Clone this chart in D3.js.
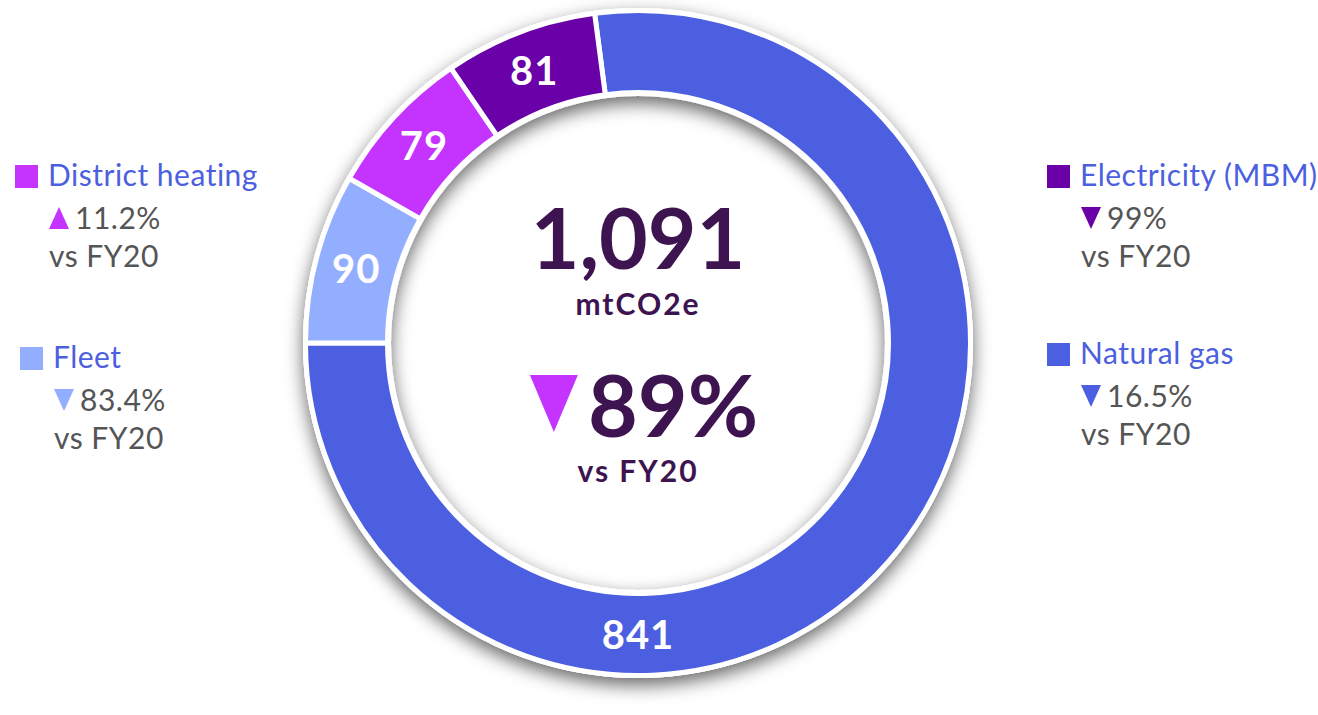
<!DOCTYPE html>
<html>
<head>
<meta charset="utf-8">
<script src="https://cdn.jsdelivr.net/npm/d3@7"></script>
<style>
  html, body { margin: 0; padding: 0; background: #ffffff; }
  svg { display: block; font-family: "Lato", "Open Sans", sans-serif; }
</style>
</head>
<body>
<div id="chart"></div>
<script>
// Emissions by source (mtCO2e), clockwise from the top
const categories = ["Natural gas", "Fleet", "District heating", "Electricity (MBM)"];
const values = [841, 90, 79, 81];
const changes = [-16.5, -83.4, 11.2, -99];   // % vs FY20
const colors = ["#4b5fe0", "#94aeff", "#c533ff", "#6a00a8"];
const totalChange = -89;
const baseYear = "FY20";
const unit = "mtCO2e";

// Layout
const width = 1318, height = 715;
const cx = 638, cy = 343;
const outerR = 330, innerR = 253;
const startAngle = -7.5 * Math.PI / 180;

// legend slot for each category (by index)
const legendPos = [
  { x: 1047, y: 343 },  // Natural gas
  { x: 20, y: 347 },    // Fleet
  { x: 15, y: 165 },    // District heating
  { x: 1047, y: 165 }   // Electricity
];

const data = categories.map((c, i) => ({
  name: c, value: values[i], change: changes[i], color: colors[i]
}));

const svg = d3.select("#chart").append("svg")
  .attr("width", width)
  .attr("height", height);

const defs = svg.append("defs");
const filter = defs.append("filter")
  .attr("id", "shadow")
  .attr("x", "-20%").attr("y", "-20%")
  .attr("width", "140%").attr("height", "140%");
filter.append("feDropShadow")
  .attr("dx", 0).attr("dy", 7)
  .attr("stdDeviation", 9)
  .attr("flood-color", "#000")
  .attr("flood-opacity", 0.6);

const g = svg.append("g").attr("transform", `translate(${cx},${cy})`);

// white ring behind the slices, carrying the shadow
g.append("path")
  .attr("d", d3.arc()({ innerRadius: innerR - 6, outerRadius: outerR + 5, startAngle: 0, endAngle: 2 * Math.PI }))
  .attr("fill", "#fff")
  .attr("filter", "url(#shadow)");

const pie = d3.pie()
  .sort(null)
  .value(d => d.value)
  .startAngle(startAngle)
  .endAngle(startAngle + 2 * Math.PI);

const arcs = pie(data);

const arc = d3.arc()
  .innerRadius(innerR - 2.5)
  .outerRadius(outerR + 2.5);

g.selectAll(".slice")
  .data(arcs)
  .enter().append("path")
  .attr("class", "slice")
  .attr("d", arc)
  .attr("fill", d => d.data.color)
  .attr("stroke", "#fff")
  .attr("stroke-width", 5)
  .attr("stroke-linejoin", "miter");

// slice value labels; the big slice gets its label at the bottom
const midR = (innerR + outerR) / 2;
const maxVal = d3.max(values);
g.selectAll(".slice-label")
  .data(arcs)
  .enter().append("text")
  .attr("class", "slice-label")
  .attr("transform", d => {
    let a = (d.startAngle + d.endAngle) / 2;
    if (d.data.value === maxVal && d.startAngle < Math.PI && d.endAngle > Math.PI) a = Math.PI;
    return `translate(${Math.sin(a) * midR},${-Math.cos(a) * midR})`;
  })
  .attr("text-anchor", "middle")
  .attr("dy", "0.36em")
  .attr("fill", "#fff")
  .style("font-size", "40px")
  .style("font-weight", 700)
  .style("letter-spacing", "1px")
  .text(d => d3.format(",")(d.value));

// centre: total and change
const total = d3.sum(values);
const dark = "#3d1450";

g.append("text")
  .attr("x", 0).attr("y", 269 - cy)
  .attr("text-anchor", "middle")
  .attr("fill", dark)
  .style("font-size", "84px")
  .style("font-weight", 700)
  .text(d3.format(",")(total));

g.append("text")
  .attr("x", 0).attr("y", 315 - cy)
  .attr("text-anchor", "middle")
  .attr("fill", dark)
  .style("font-size", "30px")
  .style("font-weight", 700)
  .style("letter-spacing", "2px")
  .text(unit);

const pctG = g.append("g");
const triW = 48, triH = 57, gap = 10;
const pctText = pctG.append("text")
  .attr("y", 437 - cy)
  .attr("fill", dark)
  .style("font-size", "86px")
  .style("font-weight", 700)
  .text(Math.abs(totalChange) + "%");
const tw = pctText.node().getComputedTextLength();
const groupW = triW + gap + tw;
const x0 = -groupW / 2 + 6;
pctText.attr("x", x0 + triW + gap);
const triTop = 375 - cy;
pctG.append("path")
  .attr("d", d3.line()([[x0, triTop], [x0 + triW, triTop], [x0 + triW / 2, triTop + triH]]) + "Z")
  .attr("fill", "#c533ff");

g.append("text")
  .attr("x", 0).attr("y", 482 - cy)
  .attr("text-anchor", "middle")
  .attr("fill", dark)
  .style("font-size", "30px")
  .style("font-weight", 700)
  .style("letter-spacing", "2px")
  .text("vs " + baseYear);

// legends
const legend = svg.selectAll(".legend")
  .data(data)
  .enter().append("g")
  .attr("class", "legend")
  .attr("transform", (d, i) => `translate(${legendPos[i].x},${legendPos[i].y})`);

legend.append("rect")
  .attr("x", 0).attr("y", 0)
  .attr("width", 23).attr("height", 23)
  .attr("fill", d => d.color);

const legendFont = t => t.style("font-size", "30px").style("letter-spacing", "0.5px");

legend.append("text")
  .attr("x", 33).attr("y", 21)
  .attr("fill", "#4b5fe0")
  .call(legendFont)
  .text(d => d.name);

legend.append("path")
  .attr("d", d => {
    const x = 34, y = 42, w = 20, h = 22;
    return d.change > 0
      ? `M${x},${y + h}L${x + w},${y + h}L${x + w / 2},${y}Z`
      : `M${x},${y}L${x + w},${y}L${x + w / 2},${y + h}Z`;
  })
  .attr("fill", d => d.color);

legend.append("text")
  .attr("x", 60).attr("y", 64)
  .attr("fill", "#555")
  .call(legendFont)
  .text(d => Math.abs(d.change) + "%");

legend.append("text")
  .attr("x", 34).attr("y", 102)
  .attr("fill", "#555")
  .call(legendFont)
  .text("vs " + baseYear);
</script>
</body>
</html>
